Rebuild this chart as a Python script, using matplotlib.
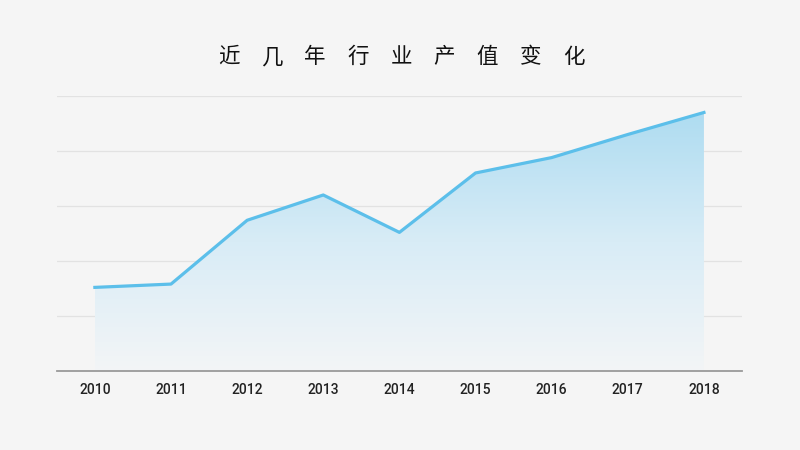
import numpy as np
import matplotlib
matplotlib.use('Agg')
import matplotlib.pyplot as plt
from matplotlib.colors import LinearSegmentedColormap

plt.rcParams['font.family'] = ['Roboto', 'Noto Sans CJK SC', 'DejaVu Sans']

# data
years = ['2010', '2011', '2012', '2013', '2014', '2015', '2016', '2017', '2018']
values = [76, 79, 137, 160, 126, 180, 194, 215, 235]
title = '近几年行业产值变化'

bg = '#f5f5f5'
fig = plt.figure(figsize=(8, 4.5), dpi=100, facecolor=bg)
ax = fig.add_axes([0.071, 0.1756, 0.8565, 0.6111], facecolor=bg)

x = np.arange(len(years))
ax.set_xlim(-0.5, len(years) - 0.5)
ax.set_ylim(0, 250)

# gradient fill under the line
cmap = LinearSegmentedColormap.from_list('fade', ['#f3f5f7', '#d8ecf6', '#aedcf1'])
grad = np.linspace(0, 1, 256).reshape(-1, 1)
img = ax.imshow(grad, cmap=cmap, aspect='auto', origin='lower',
                extent=[x[0], x[-1], 0, max(values)], zorder=1)
poly = ax.fill_between(x, values, 0, color='none', lw=0)
img.set_clip_path(poly.get_paths()[0], ax.transData)

ax.plot(x, values, color='#5cbfea', lw=2.3, solid_joinstyle='round', zorder=3)

ax.set_yticks([50, 100, 150, 200, 250])
ax.yaxis.grid(True, color='#e2e2e2', lw=0.9)
ax.set_axisbelow(True)
ax.tick_params(axis='y', length=0, labelleft=False)
ax.set_xticks(x)
ax.set_xticklabels(years, fontsize=10, color='#222222', fontweight='medium')
ax.tick_params(axis='x', length=0, pad=9)
for s in ['top', 'right', 'left']:
    ax.spines[s].set_visible(False)
ax.spines['bottom'].set_color('#9a9a9a')
ax.spines['bottom'].set_linewidth(1.3)

# title with wide letter spacing
for i, ch in enumerate(title):
    fig.text((229 + 43.1 * i) / 800, 1 - 57 / 450, ch, fontsize=15.5,
             ha='center', va='center', color='#111111',
             family=['Noto Sans CJK SC', 'DejaVu Sans'])

fig.savefig('out.png', dpi=100, facecolor=bg)
